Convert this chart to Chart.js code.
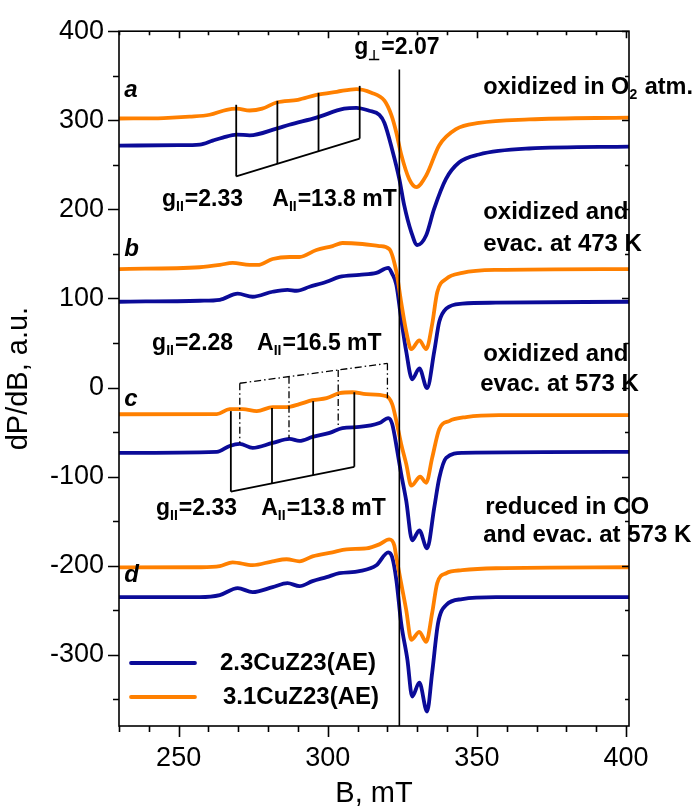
<!DOCTYPE html>
<html>
<head>
<meta charset="utf-8">
<script src="https://cdn.jsdelivr.net/npm/chart.js@4.4.0/dist/chart.umd.min.js"></script>
<style>
  body { margin: 0; background: #fff; }
  #wrap { width: 699px; height: 811px; }
</style>
</head>
<body>
<div id="wrap"><canvas id="epr"></canvas></div>
<script>
// EPR spectra, [B (mT), dP/dB (a.u.)], each spectrum shifted vertically
const a23 = [[230,271.6],[250,272],[257.1,272.7],[261.4,277.2],[264.8,280.6],[269.5,284],[273.8,283],[282.8,290.6],[287.1,295],[296.2,303],[305.5,313],[309.6,314],[313.9,310.7],[317.3,306],[319,297],[321.6,267],[324,234],[325.6,205],[328,174.5],[330,160],[333,171],[335.6,200],[339.6,234],[344,252.6],[350.7,261.6],[367.5,268.3],[401,270.5]];
const a31 = [[230,302],[245,302.5],[253.7,304],[260.4,306.2],[266.1,311.8],[269.5,313],[273.8,311],[278,313],[282.8,320],[290,323],[296.2,328.5],[303,332],[309.6,335],[314.6,331],[319,322],[321.3,306],[323,286],[324.6,262],[327.3,234],[329.7,225],[333,238],[337.4,272],[343,290],[350.7,297],[367.5,301],[401,303]];
const b23 = [[230,96.3],[257.1,97.4],[263.8,98.5],[269.8,105.3],[274.8,101.9],[281.5,107.5],[286.5,109.7],[289.5,108.6],[293.9,113.1],[299.6,118.7],[303.9,124.2],[310.6,126.5],[316.3,128.7],[320.3,134.3],[321.6,127.6],[323,115.3],[324.6,77.3],[326.3,40.5],[328.3,9.2],[330.7,21.5],[333.3,-0.8],[335.7,40.5],[337.4,74],[339.7,88.5],[345.1,94.1],[356.4,95.2],[401,96.3]];
const b31 = [[230,133],[257,135],[263.8,137.6],[268.1,140],[273.8,137.6],[276.5,137.6],[281.5,144.3],[287.2,146.5],[290.5,146.5],[296.2,154.4],[301.6,158.8],[304.9,162.2],[311.6,161.1],[317.3,158.8],[320.6,155.5],[323,130],[324.6,96],[326.3,63],[328,43],[330.7,53],[333,43],[335,71],[336.7,107],[339.7,122],[345.1,128.7],[356.4,132],[401,133]];
const c23 = [[230,-73.4],[262.8,-72.3],[267.1,-65.6],[270.5,-63.3],[274.8,-67.8],[281.5,-62.2],[287.2,-57.7],[290.5,-60],[294.9,-55.5],[300.6,-51],[304.9,-45.5],[310.6,-44.3],[317.3,-39.9],[320.3,-34.3],[321.6,-41],[323.3,-71.1],[324.6,-96.8],[326.3,-127],[328.3,-171.6],[330.7,-160.5],[333.3,-180.6],[335.7,-134.8],[337.4,-101.3],[339.7,-79],[345.1,-73.4],[401,-72.3]];
const c31 = [[230,-30],[262.8,-29.8],[267.1,-24.3],[271.5,-24.3],[276.2,-26.5],[281.5,-22],[286.2,-22],[290.5,-18.7],[294.9,-14.2],[299.6,-12],[303.9,-6.4],[308.3,-5.3],[312.9,-7.5],[319.6,-9.7],[321.6,-18.7],[323,-37.7],[324.6,-63.3],[326.3,-85.7],[328,-110.2],[331,-100.2],[333,-106.9],[335,-79],[337.4,-46.6],[340.7,-37.7],[346.4,-33.2],[357.4,-31],[401,-31]];
const d23 = [[230,-235.3],[257.1,-235.3],[263.8,-233],[269.8,-225.2],[274.8,-229.7],[281.5,-224.1],[286.5,-219.6],[290.5,-223],[294.9,-217.4],[299.6,-212.9],[303.9,-208.5],[310.6,-206.2],[316.3,-199.5],[320.3,-185],[321.6,-190.6],[323,-216.3],[324.6,-264.3],[326.7,-305.6],[328.3,-346.9],[330.7,-331.3],[333.3,-363.7],[335,-320.1],[337,-264.3],[339.7,-244.2],[345.1,-237.5],[356.4,-235.3],[401,-235.3]];
const d31 = [[230,-202],[257.1,-201.8],[263.8,-200.6],[268.1,-196.2],[274.8,-199.5],[281.5,-195.1],[286.2,-192.8],[290.5,-195.1],[294.9,-189.5],[301.6,-185],[306.3,-181.7],[312.9,-180.6],[317.3,-176.1],[320.6,-170.5],[322.3,-177.2],[323,-190.6],[324.6,-219.6],[326.3,-249.8],[328,-283.3],[330.7,-274.4],[333,-285.5],[335,-253.1],[336.7,-219.6],[339.7,-208.5],[345.1,-205.1],[356.4,-202.9],[401,-201.8]];

const seriesNames = ['2.3CuZ23(AE)', '3.1CuZ23(AE)'];
const seriesColors = ['#0b0b98', '#ff8000'];
const xTicks = [250, 300, 350, 400];
const yTicks = [-300, -200, -100, 0, 100, 200, 300, 400];

// g-perpendicular marker
const gPerpB = 324;
const gPerpTop = 357;

// hyperfine stick diagrams: first line position, splitting (mT), top and bottom of each stick
const hfA = { b0: 269.3, split: 13.8, top: [317.4, 321.8, 330.8, 338.6], bottom: [237.0, 251.1, 265.3, 279.4] };
const hfC = { b0: 267.5, split: 13.8, top: [-26.5, -23.1, -15.3, -5.3], bottom: [-116.9, -107.6, -98.3, -89.0] };
const hfC2 = { b0: 270.5, split: 16.5, top: [4.8, 12.2, 19.7, 27.1], bottom: [-62.2, -56.6, -44.3, -12.0] };

const FONT = '"Liberation Sans", Arial, sans-serif';

function toXY(arr) { return arr.map(p => ({ x: p[0], y: p[1] })); }

function line(color, data) {
  return {
    data: toXY(data), borderColor: color, borderWidth: 3.8, pointRadius: 0,
    cubicInterpolationMode: 'monotone', fill: false
  };
}

// text with subscripts: parts = [[text, isSub], ...]
function rich(ctx, parts, x, y, size, italic) {
  let cx = x;
  for (const [t, sub] of parts) {
    const s = sub ? Math.round(size * 0.6) : size;
    ctx.font = `${italic ? 'italic ' : ''}bold ${s}px ${FONT}`;
    ctx.fillText(t, cx, sub ? y + size * 0.33 : y);
    cx += ctx.measureText(t).width + (sub ? 1 : 0);
  }
}

function sticks(ctx, xs, ys, hf, dash) {
  ctx.save();
  ctx.lineWidth = 1.8;
  ctx.strokeStyle = '#000';
  if (dash) { ctx.setLineDash([7, 3, 1.5, 3]); ctx.lineWidth = 1.3; }
  const pts = hf.top.map((t, i) => hf.b0 + i * hf.split);
  pts.forEach((b, i) => {
    ctx.beginPath();
    ctx.moveTo(xs.getPixelForValue(b), ys.getPixelForValue(hf.top[i]));
    ctx.lineTo(xs.getPixelForValue(b), ys.getPixelForValue(hf.bottom[i]));
    ctx.stroke();
  });
  // connecting slanted line
  const ends = dash ? hf.top : hf.bottom;
  ctx.beginPath();
  ctx.moveTo(xs.getPixelForValue(pts[0]), ys.getPixelForValue(ends[0]));
  ctx.lineTo(xs.getPixelForValue(pts[3]), ys.getPixelForValue(ends[3]));
  ctx.stroke();
  ctx.restore();
}

const decorations = {
  id: 'decorations',
  afterDatasetsDraw(chart) {
    const { ctx, chartArea: ca, scales: { x, y } } = chart;
    ctx.save();
    ctx.strokeStyle = '#000';
    ctx.lineWidth = 1.6;
    ctx.strokeRect(ca.left, ca.top, ca.right - ca.left, ca.bottom - ca.top);

    // x ticks: outward at bottom, inward at top
    for (let v = 230; v <= 400; v += 10) {
      const px = Math.round(x.getPixelForValue(v)) + 0.5;
      const major = v % 50 === 0;
      ctx.beginPath();
      ctx.moveTo(px, ca.bottom); ctx.lineTo(px, ca.bottom + (major ? 11 : 6));
      ctx.moveTo(px, ca.top); ctx.lineTo(px, ca.top + (major ? 7 : 4));
      ctx.stroke();
    }
    // y ticks: outward at left, inward at right
    for (let v = -350; v <= 400; v += 50) {
      const py = Math.round(y.getPixelForValue(v)) + 0.5;
      const major = v % 100 === 0;
      ctx.beginPath();
      ctx.moveTo(ca.left, py); ctx.lineTo(ca.left - (major ? 11 : 6), py);
      ctx.moveTo(ca.right, py); ctx.lineTo(ca.right - (major ? 7 : 4), py);
      ctx.stroke();
    }

    // g-perpendicular line
    ctx.beginPath();
    const gx = x.getPixelForValue(gPerpB);
    ctx.moveTo(gx, y.getPixelForValue(gPerpTop));
    ctx.lineTo(gx, ca.bottom);
    ctx.stroke();

    sticks(ctx, x, y, hfA, false);
    sticks(ctx, x, y, hfC, false);
    sticks(ctx, x, y, hfC2, true);

    ctx.fillStyle = '#000';
    ctx.textBaseline = 'middle';
    ctx.textAlign = 'left';
    const X = v => x.getPixelForValue(v);
    const Y = v => y.getPixelForValue(v);

    rich(ctx, [['g', false], ['\u22A5', true], ['=2.07', false]], X(308.9), Y(381), 23);

    rich(ctx, [['g', false], ['II', true], ['=2.33', false]], X(244.4), Y(211.3), 23);
    rich(ctx, [['A', false], ['II', true], ['=13.8 mT', false]], X(281.4), Y(211.3), 23);
    rich(ctx, [['g', false], ['II', true], ['=2.28', false]], X(241.1), Y(49.4), 23);
    rich(ctx, [['A', false], ['II', true], ['=16.5 mT', false]], X(276.3), Y(49.4), 23);
    rich(ctx, [['g', false], ['II', true], ['=2.33', false]], X(242.4), Y(-135.9), 23);
    rich(ctx, [['A', false], ['II', true], ['=13.8 mT', false]], X(277.7), Y(-135.9), 23);

    rich(ctx, [['a', false]], X(231.8), Y(334), 24, true);
    rich(ctx, [['b', false]], X(231.8), Y(155.5), 24, true);
    rich(ctx, [['c', false]], X(231.8), Y(-13), 24, true);
    rich(ctx, [['d', false]], X(231.8), Y(-210.7), 24, true);

    const tx = X(352.1);
    rich(ctx, [['oxidized in O', false], ['2', true], [' atm.', false]], tx, Y(336.4), 23.5);
    rich(ctx, [['oxidized and', false]], tx, Y(196.8), 24);
    rich(ctx, [['evac. at 473 K', false]], tx, Y(161.1), 24);
    rich(ctx, [['oxidized and', false]], tx, Y(37.2), 24);
    rich(ctx, [['evac. at 573 K', false]], tx - 3, Y(3.7), 24);
    rich(ctx, [['reduced in CO', false]], tx + 2, Y(-134.8), 24);
    rich(ctx, [['and evac. at 573 K', false]], tx, Y(-166), 24);

    // legend inside the plot, lower left
    seriesNames.forEach((name, i) => {
      const ly = ca.bottom - 63 + i * 34;
      ctx.strokeStyle = seriesColors[i];
      ctx.lineWidth = 3.8;
      ctx.lineCap = 'round';
      ctx.beginPath();
      ctx.moveTo(ca.left + 12, ly); ctx.lineTo(ca.left + 76, ly);
      ctx.stroke();
      rich(ctx, [[name, false]], ca.left + 101 + i * 3, ly, 24);
    });
    ctx.restore();
  }
};

const datasets = [
  line(seriesColors[1], a31), line(seriesColors[0], a23),
  line(seriesColors[1], b31), line(seriesColors[0], b23),
  line(seriesColors[1], c31), line(seriesColors[0], c23),
  line(seriesColors[1], d31), line(seriesColors[0], d23)
];

new Chart(document.getElementById('epr'), {
  type: 'line',
  data: { datasets },
  options: {
    responsive: true,
    maintainAspectRatio: false,
    animation: false,
    layout: { padding: { top: 27, right: 70, left: 0, bottom: 0 } },
    plugins: { legend: { display: false }, tooltip: { enabled: false } },
    scales: {
      x: {
        type: 'linear', min: 230, max: 401,
        afterBuildTicks: s => { s.ticks = xTicks.map(v => ({ value: v })); },
        afterFit: s => { s.height = 85; },
        grid: { display: false, drawTicks: false },
        border: { display: false },
        ticks: { color: '#000', padding: 16, maxRotation: 0, font: { family: FONT, size: 27 } },
        title: { display: true, text: 'B, mT', color: '#000', padding: { top: 0, bottom: 0 }, font: { family: FONT, size: 29 } }
      },
      y: {
        type: 'linear', min: -380, max: 400,
        afterBuildTicks: s => { s.ticks = yTicks.map(v => ({ value: v })); },
        afterFit: s => { s.width = 119; },
        grid: { display: false, drawTicks: false },
        border: { display: false },
        ticks: { color: '#000', padding: 15, font: { family: FONT, size: 27 } },
        title: { display: true, text: 'dP/dB, a.u.', color: '#000', padding: { top: 2, bottom: 0 }, font: { family: FONT, size: 29 } }
      }
    }
  },
  plugins: [decorations]
});
</script>
</body>
</html>
